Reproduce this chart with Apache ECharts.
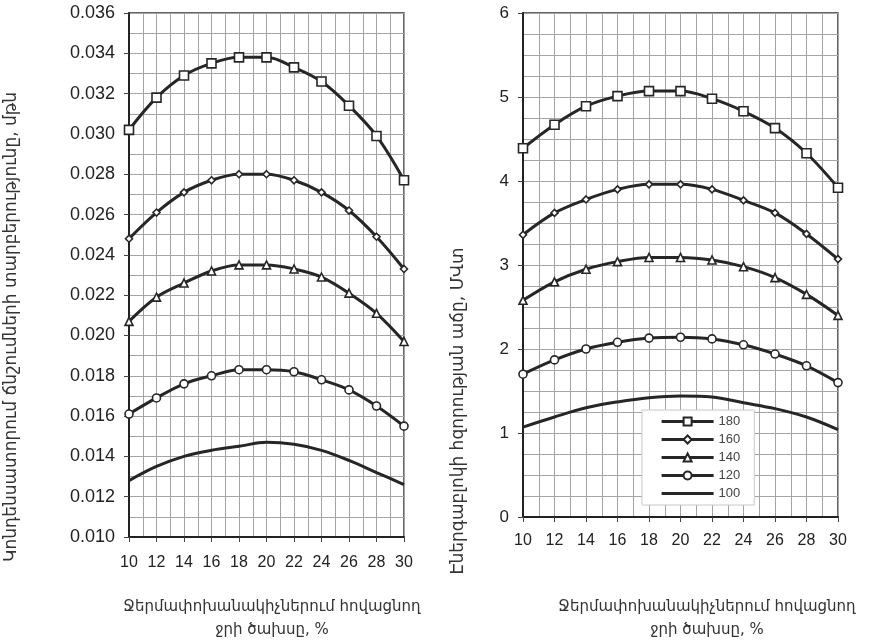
<!DOCTYPE html>
<html>
<head>
<meta charset="utf-8">
<script src="https://cdn.jsdelivr.net/npm/echarts@6.0.0/dist/echarts.min.js"></script>
<style>
html,body{margin:0;padding:0;background:#fff;}
#chart{width:876px;height:644px;}
</style>
</head>
<body>
<div id="chart"></div>
<script>
// ---- data ----
const xValues = [10, 12, 14, 16, 18, 20, 22, 24, 26, 28, 30];
const seriesNames = ['180', '160', '140', '120', '100'];

// left chart: pressure difference in condenser, atm
const pressure180 = [0.0302, 0.0318, 0.0329, 0.0335, 0.0338, 0.0338, 0.0333, 0.0326, 0.0314, 0.0299, 0.0277];
const pressure160 = [0.0248, 0.0261, 0.0271, 0.0277, 0.0280, 0.0280, 0.0277, 0.0271, 0.0262, 0.0249, 0.0233];
const pressure140 = [0.0207, 0.0219, 0.0226, 0.0232, 0.0235, 0.0235, 0.0233, 0.0229, 0.0221, 0.0211, 0.0197];
const pressure120 = [0.0161, 0.0169, 0.0176, 0.0180, 0.0183, 0.0183, 0.0182, 0.0178, 0.0173, 0.0165, 0.0155];
const pressure100 = [0.0128, 0.0135, 0.0140, 0.0143, 0.0145, 0.0147, 0.0146, 0.0143, 0.0138, 0.0132, 0.0126];

// right chart: power increase, MW
const power180 = [4.39, 4.67, 4.89, 5.01, 5.07, 5.07, 4.98, 4.83, 4.63, 4.33, 3.92];
const power160 = [3.36, 3.62, 3.78, 3.90, 3.96, 3.96, 3.90, 3.77, 3.62, 3.37, 3.07];
const power140 = [2.58, 2.80, 2.95, 3.04, 3.09, 3.09, 3.06, 2.98, 2.85, 2.65, 2.40];
const power120 = [1.70, 1.87, 2.00, 2.08, 2.13, 2.14, 2.12, 2.05, 1.94, 1.80, 1.60];
const power100 = [1.07, 1.19, 1.30, 1.37, 1.42, 1.44, 1.43, 1.36, 1.29, 1.19, 1.04];

const leftTitle = 'Կոնդենսատորում ճնշումների տարբերությունը, մթն';
const rightTitle = 'Էներգաբլոկի հզորության աճը, ՄՎտ';
const xTitle = 'Ջերմափոխանակիչներում հովացնող\nջրի ծախսը, %';

// ---- styles ----
const LINE = '#262626';
const GRIDC = '#a4a4a4';
const NUMFONT = '"Liberation Sans", Arial, sans-serif';
const ARMFONT = '"DejaVu Sans", sans-serif';
const symbols = {
  '180': {symbol: 'rect', size: 9},
  '160': {symbol: 'diamond', size: 7},
  '140': {symbol: 'triangle', size: 8},
  '120': {symbol: 'circle', size: 8},
  '100': {symbol: 'none', size: 0}
};

function pairs(arr) { return xValues.map((x, i) => [x, arr[i]]); }

function mkSeries(name, arr, idx) {
  const s = symbols[name];
  return {
    name: name,
    type: 'line',
    xAxisIndex: idx, yAxisIndex: idx,
    data: pairs(arr),
    smooth: 0.35,
    symbol: s.symbol,
    symbolSize: s.size,
    showSymbol: s.symbol !== 'none',
    lineStyle: {color: LINE, width: 3},
    itemStyle: {color: '#ffffff', borderColor: LINE, borderWidth: 1.6},
    emphasis: {disabled: true},
    z: 5
  };
}

function xAxisCfg(idx, margin) {
  return {
    type: 'value', gridIndex: idx, min: 10, max: 30, interval: 2,
    axisLine: {show: true, onZero: false, lineStyle: {color: '#222', width: 2}},
    axisTick: {show: true, length: 5, lineStyle: {color: '#444', width: 1}},
    axisLabel: {fontSize: 16, color: '#222', margin: margin, fontFamily: NUMFONT},
    splitLine: {show: true, lineStyle: {color: GRIDC, width: 1}},
    minorTick: {show: false, splitNumber: 2},
    minorSplitLine: {show: true, lineStyle: {color: GRIDC, width: 1}}
  };
}

function yAxisCfg(idx, min, max, interval, minorN, fmt, margin, fs) {
  return {
    type: 'value', gridIndex: idx, min: min, max: max, interval: interval,
    axisLine: {show: true, onZero: false, lineStyle: {color: '#222', width: 2}},
    axisTick: {show: true, length: 5, lineStyle: {color: '#444', width: 1}},
    axisLabel: {fontSize: fs, color: '#222', margin: margin, fontFamily: NUMFONT, formatter: fmt},
    splitLine: {show: true, lineStyle: {color: GRIDC, width: 1}},
    minorTick: {show: false, splitNumber: minorN},
    minorSplitLine: {show: true, lineStyle: {color: GRIDC, width: 1}}
  };
}

const chart = echarts.init(document.getElementById('chart'), null, {renderer: 'canvas'});

const legendData = seriesNames.map(n => n === '100'
  ? {name: n, itemStyle: {opacity: 0}}
  : {name: n});

const option = {
  backgroundColor: '#ffffff',
  animation: false,
  grid: [
    {left: 129, right: 472, top: 13, bottom: 107, show: true, borderColor: '#333', borderWidth: 1.5, backgroundColor: '#fff'},
    {left: 523, right: 38, top: 13, bottom: 127, show: true, borderColor: '#333', borderWidth: 1.5, backgroundColor: '#fff'}
  ],
  xAxis: [xAxisCfg(0, 18), xAxisCfg(1, 16)],
  yAxis: [
    yAxisCfg(0, 0.010, 0.036, 0.002, 2, v => v.toFixed(3), 14, 18),
    yAxisCfg(1, 0, 6, 1, 4, v => String(v), 14, 17)
  ],
  legend: {
    show: true,
    data: legendData,
    orient: 'vertical',
    left: 642, top: 410,
    itemWidth: 52, itemHeight: 10, itemGap: 5,
    padding: [5, 14, 5, 18],
    backgroundColor: '#ffffff',
    borderColor: '#c8c8c8', borderWidth: 1,
    lineStyle: {width: 3.2, color: LINE},
    textStyle: {fontSize: 13, color: '#444', fontFamily: NUMFONT},
    selectedMode: false
  },
  graphic: [
    {type: 'text', x: 12, y: 327, rotation: Math.PI / 2,
     style: {text: leftTitle, font: '17px ' + ARMFONT, fill: '#333', align: 'center', verticalAlign: 'middle'}},
    {type: 'text', x: 459, y: 411, rotation: Math.PI / 2,
     style: {text: rightTitle, font: '17px ' + ARMFONT, fill: '#333', align: 'center', verticalAlign: 'middle'}},
    {type: 'text', x: 272, y: 619,
     style: {text: xTitle, font: '15px ' + ARMFONT, fill: '#333', align: 'center', verticalAlign: 'middle', lineHeight: 23}},
    {type: 'text', x: 707, y: 619,
     style: {text: xTitle, font: '15px ' + ARMFONT, fill: '#333', align: 'center', verticalAlign: 'middle', lineHeight: 23}}
  ],
  series: [
    mkSeries('180', pressure180, 0),
    mkSeries('160', pressure160, 0),
    mkSeries('140', pressure140, 0),
    mkSeries('120', pressure120, 0),
    mkSeries('100', pressure100, 0),
    mkSeries('180', power180, 1),
    mkSeries('160', power160, 1),
    mkSeries('140', power140, 1),
    mkSeries('120', power120, 1),
    mkSeries('100', power100, 1)
  ]
};

chart.setOption(option);
</script>
</body>
</html>
